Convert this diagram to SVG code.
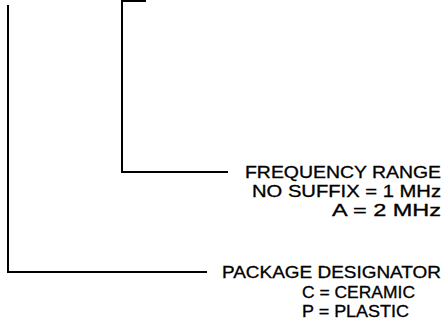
<svg xmlns="http://www.w3.org/2000/svg" width="443" height="328" viewBox="0 0 443 328">
<style>
.c{fill:none;stroke:#000;stroke-width:2;stroke-linecap:butt}
.t{font-family:"Liberation Sans",Arial,sans-serif;font-size:16px;fill:#000;stroke:#000;stroke-width:0.3;text-anchor:end}
</style>
<rect width="443" height="328" fill="#fff"/>
<g id="connectors">
<path class="c" d="M8,5 V272 H207"/>
<path class="c" d="M122,0 V172 H228"/>
<path class="c" d="M122,1 H146" stroke-width="1.5"/>
</g>
<g id="frequency">
<text class="t" x="441" y="178" textLength="196" lengthAdjust="spacingAndGlyphs">FREQUENCY RANGE</text>
<text class="t" x="441" y="197" textLength="189" lengthAdjust="spacingAndGlyphs">NO SUFFIX = 1 MHz</text>
<text class="t" x="441" y="216" textLength="109" lengthAdjust="spacingAndGlyphs">A = 2 MHz</text>
</g>
<g id="package">
<text class="t" x="441" y="278" textLength="219" lengthAdjust="spacingAndGlyphs">PACKAGE DESIGNATOR</text>
<text class="t" x="415" y="298" textLength="113" lengthAdjust="spacingAndGlyphs">C = CERAMIC</text>
<text class="t" x="409" y="317" textLength="107" lengthAdjust="spacingAndGlyphs">P = PLASTIC</text>
</g>
</svg>
